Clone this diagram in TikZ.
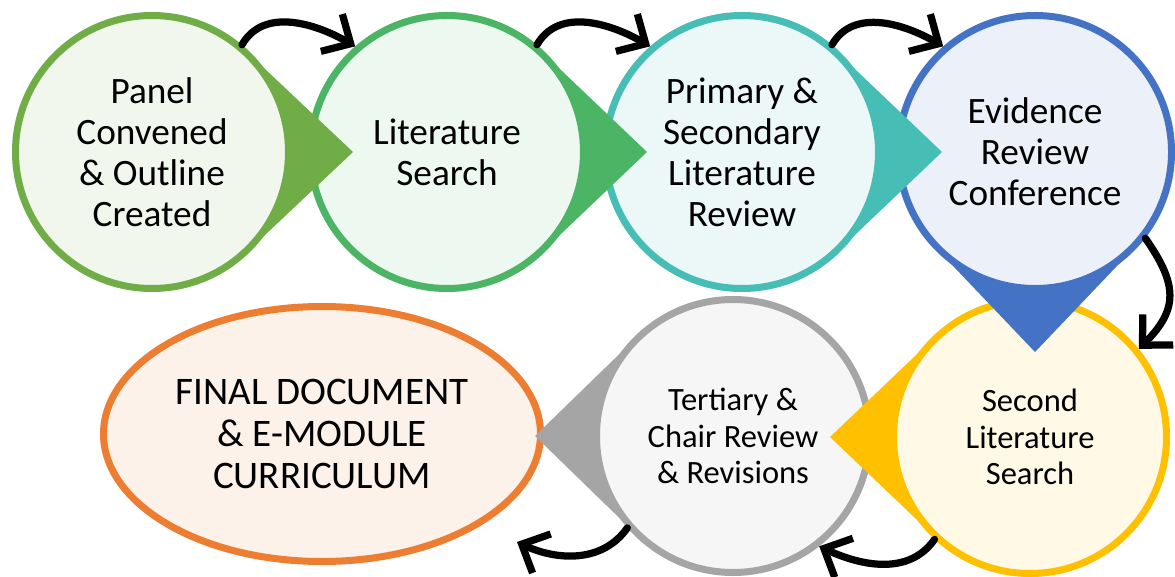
\documentclass[tikz,border=0pt]{standalone}
\usepackage{fontspec}
\setmainfont{Carlito}
\usepackage{tikz}
\usetikzlibrary{arrows.meta,calc,shapes.geometric}

\definecolor{panelgreen}{HTML}{70AD47}
\definecolor{searchgreen}{HTML}{4CB565}
\definecolor{reviewteal}{HTML}{46BDB5}
\definecolor{confblue}{HTML}{4472C4}
\definecolor{secondgold}{HTML}{FFC000}
\definecolor{chairgray}{HTML}{A5A5A5}
\definecolor{finalorange}{HTML}{ED7D31}

\newcommand{\toptext}{\fontsize{21.2}{23.3}\selectfont}
\newcommand{\lowtext}{\fontsize{18.5}{20.7}\selectfont}
\newcommand{\finaltext}{\fontsize{22.2}{24}\selectfont}

\begin{document}
\begin{tikzpicture}[x=0.2mm,y=-0.2mm,
    bubble/.style={circle,draw=#1,fill=#1!10!white,line width=1.4mm,
        minimum size=54.6mm,inner sep=0pt,align=center,font=\toptext},
    flow/.style={line width=1.45mm,line cap=round,
        -{Straight Barb[length=4.4mm,width=8.6mm]}}]
    \useasboundingbox (0,0) rectangle (1175,577);

    % Centres of the steps
    \coordinate (p1) at (152,152);
    \coordinate (p2) at (447,152);
    \coordinate (p3) at (742,152);
    \coordinate (p4) at (1035,152);
    \coordinate (p5) at (1030,437);
    \coordinate (p6) at (733,436);
    \coordinate (p7) at (322,434);

    % Step 7: final document (drawn first, lies underneath)
    \node[ellipse,draw=finalorange,fill=finalorange!10!white,line width=1.4mm,
        minimum width=87.4mm,minimum height=51mm,inner sep=0pt,align=center,
        font=\finaltext] (c7) at (p7) {FINAL DOCUMENT\\\& E-MODULE\\CURRICULUM};

    % Step 6: tertiary review, points left
    \fill[chairgray] ($(p6)+(135:138)$) -- ($(p6)+(180:198)$) -- ($(p6)+(225:138)$) -- (p6) -- cycle;
    \node[bubble=chairgray,font=\lowtext] (c6) at (p6) {Tertiary \&\\Chair Review\\\& Revisions};

    % Step 5: second search, points left
    \fill[secondgold] ($(p5)+(135:138)$) -- ($(p5)+(180:200)$) -- ($(p5)+(225:138)$) -- (p5) -- cycle;
    \node[bubble=secondgold,font=\lowtext] (c5) at (p5) {Second\\Literature\\Search};

    % Step 4: conference, points down
    \fill[confblue] ($(p4)+(45:138)$) -- ($(p4)+(90:200)$) -- ($(p4)+(135:138)$) -- (p4) -- cycle;
    \node[bubble=confblue] (c4) at (p4) {Evidence\\Review\\Conference};

    % Steps 3, 2, 1: point right
    \fill[reviewteal] ($(p3)+(-45:138)$) -- ($(p3)+(0:200)$) -- ($(p3)+(45:138)$) -- (p3) -- cycle;
    \node[bubble=reviewteal] (c3) at (p3) {Primary \&\\Secondary\\Literature\\Review};

    \fill[searchgreen] ($(p2)+(-45:138)$) -- ($(p2)+(0:200)$) -- ($(p2)+(45:138)$) -- (p2) -- cycle;
    \node[bubble=searchgreen] (c2) at (p2) {Literature\\Search};

    \fill[panelgreen] ($(p1)+(-45:138)$) -- ($(p1)+(0:201)$) -- ($(p1)+(45:138)$) -- (p1) -- cycle;
    \node[bubble=panelgreen] (c1) at (p1) {Panel\\Convened\\\& Outline\\Created};

    % Curved arrows between the steps
    \coordinate (finend) at (517,542);
    \draw[flow] (c1.50) to[out=60,in=150] (c2.131);
    \draw[flow] (c2.50) to[out=60,in=150] (c3.131);
    \draw[flow] (c3.50) to[out=60,in=150] (c4.131);
    \draw[flow] (c4.-38) to[out=-55,in=45,looseness=1.3] (c5.39);
    \draw[flow] (c5.-133) to[out=-125,in=-25] (c6.-52);
    \draw[flow] (c6.-139) to[out=-125,in=-25] (finend);
\end{tikzpicture}
\end{document}
